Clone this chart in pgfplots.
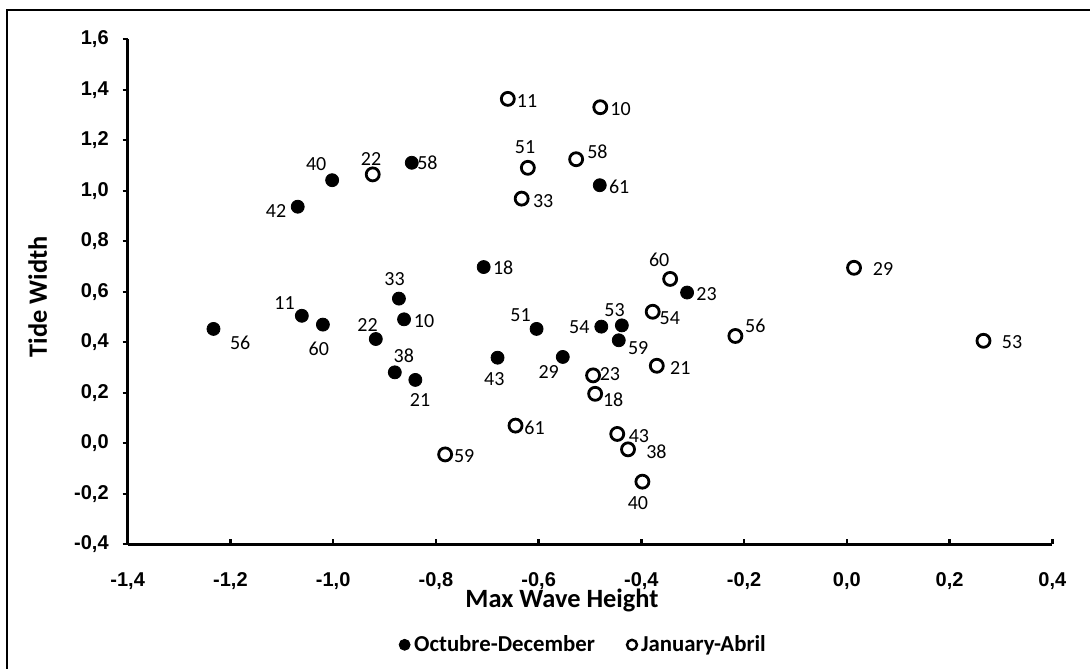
\documentclass[border=0pt]{standalone}
\usepackage{pgfplots}
\usepackage{pgfplotstable}
\pgfplotsset{compat=1.18}
\usepackage{fontspec}
\setmainfont{Carlito}
\newfontfamily\tickfont{Liberation Sans}

% x = max wave height, y = tide width, lab = site label,
% dx/dy = label offset from its marker (pt)
\pgfplotstableread{
x      y      lab dx     dy
-1.233 0.453  56  13.35  -7.1
-1.061 0.505  11  -8.65   6.2
-1.020 0.470  60  -2.05 -12.25
-0.917 0.413  22  -4.15   6.85
-0.872 0.573  33  -2.2    9.75
-0.862 0.491  10  10.0   -0.75
-0.880 0.281  38   4.5    8.15
-0.840 0.251  21   2.35 -10.0
-1.069 0.937  42 -10.8   -2.4
-1.002 1.042  40  -8.0    8.05
-0.847 1.111  58   7.85   0.2
-0.481 1.022  61   9.7   -0.95
-0.707 0.698  18   9.75  -0.4
-0.311 0.597  23   9.75  -0.55
-0.604 0.453  51  -8.0    6.85
-0.478 0.462  54 -11.0   -0.4
-0.438 0.467  53  -3.65   7.4
-0.444 0.408  59   9.7   -3.75
-0.680 0.339  43  -1.65 -10.9
-0.553 0.342  29  -7.05  -7.6
}\octdec

\pgfplotstableread{
x      y      lab dx     dy
-0.923 1.065  22  -0.8    7.65
-0.660 1.364  11   9.6   -1.1
-0.480 1.331  10  10.15  -0.95
-0.621 1.091  51  -1.4   10.1
-0.527 1.125  58  10.65   3.65
-0.633 0.969  33  10.75  -1.05
-0.344 0.651  60  -5.5    9.35
-0.378 0.521  54   8.6   -3.3
-0.217 0.425  56  10.0    4.9
-0.370 0.307  21  11.75  -1.05
-0.494 0.269  23   8.4    0.4
-0.490 0.196  18   9.0   -3.15
-0.645 0.070  61   9.5   -1.05
-0.447 0.037  43  10.85  -1.1
-0.426 -0.024 38  14.2   -0.95
-0.782 -0.044 59   9.5   -0.6
-0.398 -0.152 40  -2.25 -10.9
0.014  0.695  29  14.5   -0.8
0.266  0.406  53  14.3   -0.5
}\janabr

\pgfplotsset{
  sitelabels/.style={
    nodes near coords, point meta=explicit symbolic,
    visualization depends on={\thisrow{dx} \as \dx},
    visualization depends on={\thisrow{dy} \as \dy},
    every node near coord/.append style={anchor=center,
      xshift=\dx pt, yshift=\dy pt,
      font=\fontsize{10}{12}\selectfont, text=black},
  },
}

\begin{document}
\begin{tikzpicture}
\useasboundingbox (0,0) rectangle (545pt,334pt);
% chart area border (left and top edges)
\draw[line width=1.2pt] (3.5pt,-2pt) -- (3.5pt,329pt) -- (547pt,329pt);
\begin{axis}[
  at={(63.85pt,61.85pt)}, anchor=south west,
  scale only axis, width=462.3pt, height=252.5pt,
  xmin=-1.4, xmax=0.4, ymin=-0.4, ymax=1.6,
  xtick={-1.4,-1.2,-1.0,-0.8,-0.6,-0.4,-0.2,0,0.2,0.4},
  ytick={-0.4,-0.2,0,0.2,0.4,0.6,0.8,1.0,1.2,1.4,1.6},
  axis lines=left,
  axis line style={-, line width=1.5pt},
  xtick align=inside, ytick align=outside,
  major tick length=2.5pt,
  tick style={line width=1.2pt, black},
  ticklabel style={font=\tickfont\bfseries\fontsize{10}{12}\selectfont},
  xticklabel style={yshift=-10.6pt},
  yticklabel style={xshift=-3.5pt},
  /pgf/number format/assume math mode=true,
  /pgf/number format/use comma,
  /pgf/number format/fixed,
  /pgf/number format/fixed zerofill,
  /pgf/number format/precision=1,
  clip=false,
  xlabel={Max Wave Height}, ylabel={Tide Width},
  label style={font=\bfseries\fontsize{13.2}{15}\selectfont},
  xlabel style={at={(axis description cs:0.4697,-0.1245)}, anchor=base},
  ylabel style={at={(axis description cs:-0.0873,0.49)}, anchor=base},
  legend columns=2,
  legend style={draw=none, fill=none,
    at={(axis description cs:0.494,-0.199)}, anchor=center,
    font=\bfseries\fontsize{11.4}{13}\selectfont,
    /tikz/every even column/.append style={column sep=14pt}},
  legend image code/.code={\draw[#1] plot coordinates {(0pt,0pt)};},
]
\addplot[only marks, mark=*, mark size=3.25pt, black, sitelabels,
  legend image post style={mark size=2.75pt}]
  table[x=x, y=y, meta=lab] {\octdec};
\addlegendentry{Octubre-December}
\addplot[only marks, mark=*, mark size=3.25pt,
  mark options={draw=black, fill=white, line width=1.4pt}, sitelabels,
  legend image post style={mark size=2.5pt, mark options={draw=black, fill=white, line width=1.2pt}}]
  table[x=x, y=y, meta=lab] {\janabr};
\addlegendentry{January-Abril}
\end{axis}
\end{tikzpicture}
\end{document}
